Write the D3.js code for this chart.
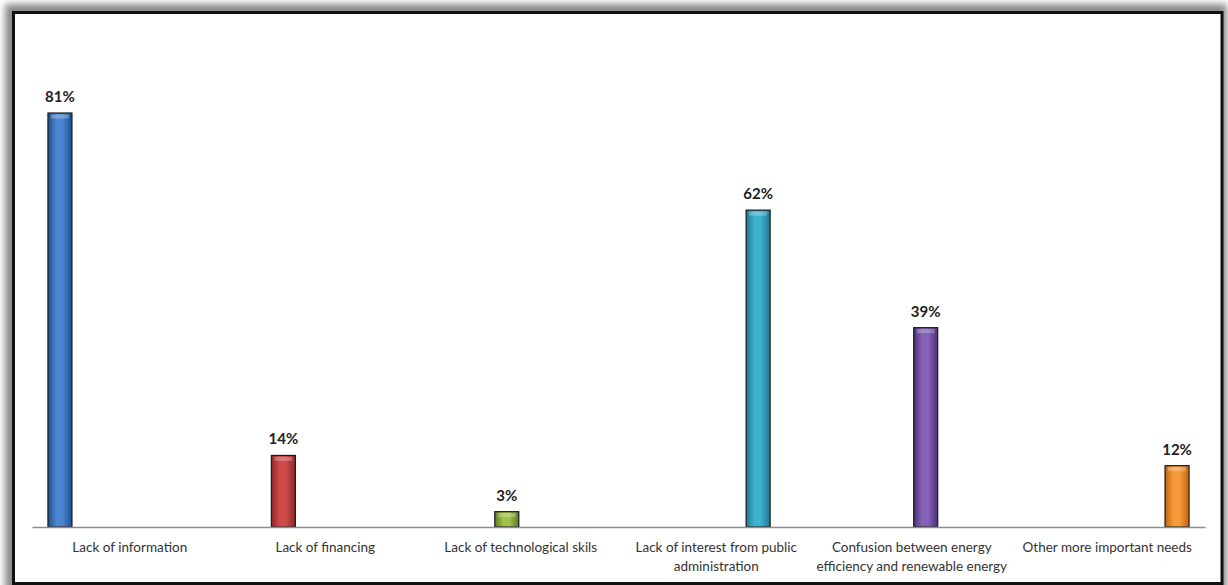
<!DOCTYPE html>
<html>
<head>
<meta charset="utf-8">
<script src="https://cdn.jsdelivr.net/npm/d3@7"></script>
<style>
  html, body { margin: 0; padding: 0; background: #fff; }
  svg { display: block; }
</style>
</head>
<body>
<div id="chart"></div>
<script>
// Barriers reported, share of respondents (%)
const categories = [
  "Lack of information",
  "Lack of financing",
  "Lack of technological skils",
  "Lack of interest from public administration",
  "Confusion between energy efficiency and renewable energy",
  "Other more important needs"
];
// Label lines for each category
const categoryLines = [
  ["Lack of information"],
  ["Lack of financing"],
  ["Lack of technological skils"],
  ["Lack of interest from public", "administration"],
  ["Confusion between energy", "efficiency and renewable energy"],
  ["Other more important needs"]
];
const values = [81, 14, 3, 62, 39, 12];
const valueLabels = ["81%", "14%", "3%", "62%", "39%", "12%"];
// Series slot that holds each category's bar (clustered layout, one series per category)
const seriesSlot = [0, 1, 2, 4, 3, 5];
const barColors = [
  ["#1f4e8c", "#4a86d0"],
  ["#8e2626", "#d04a4a"],
  ["#5f7a22", "#9fc24a"],
  ["#1d7891", "#3fb2d1"],
  ["#4b2f75", "#8462b6"],
  ["#c0650f", "#f79a3a"]
];

const W = 1228, H = 585;
const svg = d3.select("#chart").append("svg")
  .attr("width", W).attr("height", H);

const defs = svg.append("defs");
defs.append("filter").attr("id", "frameShadow")
  .attr("x", "-5%").attr("y", "-5%").attr("width", "110%").attr("height", "110%")
  .append("feGaussianBlur").attr("stdDeviation", 3.5);

barColors.forEach((c, i) => {
  const g = defs.append("linearGradient").attr("id", "bar" + i)
    .attr("x1", "0%").attr("x2", "100%").attr("y1", "0%").attr("y2", "0%");
  g.append("stop").attr("offset", "0%").attr("stop-color", c[0]);
  g.append("stop").attr("offset", "35%").attr("stop-color", c[1]);
  g.append("stop").attr("offset", "60%").attr("stop-color", c[1]);
  g.append("stop").attr("offset", "100%").attr("stop-color", c[0]);
});

// Frame with soft gray shadow
svg.append("rect")
  .attr("x", 5).attr("y", 4).attr("width", 1222).attr("height", 590)
  .attr("fill", "#8a8a8a").attr("filter", "url(#frameShadow)");
svg.append("rect")
  .attr("x", 13.5).attr("y", 12.5).attr("width", 1208.5).attr("height", 571)
  .attr("fill", "#fff").attr("stroke", "#111").attr("stroke-width", 3);

// Scales
const plotLeft = 32, plotRight = 1205, baseY = 527;
const x = d3.scaleBand().domain(categories).range([plotLeft, plotRight]).padding(0);
const inner = d3.scaleBand().domain(d3.range(categories.length))
  .range([14, x.bandwidth() - 14]).paddingInner(0.14).paddingOuter(0.07);
const y = d3.scaleLinear().domain([0, 90]).range([baseY, 67]);

const font = "Lato, 'Open Sans', 'Liberation Sans', sans-serif";

// Bars
const bars = svg.append("g");
categories.forEach((cat, i) => {
  const bx = x(cat) + inner(seriesSlot[i]);
  const bw = inner.bandwidth();
  bars.append("rect")
    .attr("x", bx).attr("y", y(values[i]))
    .attr("width", bw).attr("height", baseY - y(values[i]))
    .attr("fill", `url(#bar${i})`)
    .attr("stroke", "#1a1a1a").attr("stroke-width", 1.2);
  // top highlight
  bars.append("rect")
    .attr("x", bx + 3).attr("y", y(values[i]) + 1.5)
    .attr("width", bw - 6).attr("height", Math.min(4, Math.max(0, baseY - y(values[i]) - 3)))
    .attr("fill", "#fff").attr("opacity", 0.25);
  svg.append("text")
    .attr("x", bx + bw / 2).attr("y", y(values[i]) - 11)
    .attr("text-anchor", "middle")
    .attr("font-family", font).attr("font-weight", "bold")
    .attr("font-size", 15).attr("fill", "#222")
    .text(valueLabels[i]);
});

// Category axis
const axis = d3.axisBottom(x).tickSize(0).tickFormat(() => "");
const ax = svg.append("g").attr("transform", `translate(0,${baseY})`).call(axis);
ax.select(".domain").attr("stroke", "#8c8c8c").attr("stroke-width", 1.5);
ax.selectAll(".tick").each(function(d, i) {
  const t = d3.select(this).select("text")
    .attr("y", 0).attr("dy", null)
    .attr("font-family", font).attr("font-size", 13.5).attr("fill", "#333");
  t.text(null);
  categoryLines[i].forEach((line, k) => {
    t.append("tspan").attr("x", 0).attr("y", 25 + k * 19).text(line);
  });
});
</script>
</body>
</html>
